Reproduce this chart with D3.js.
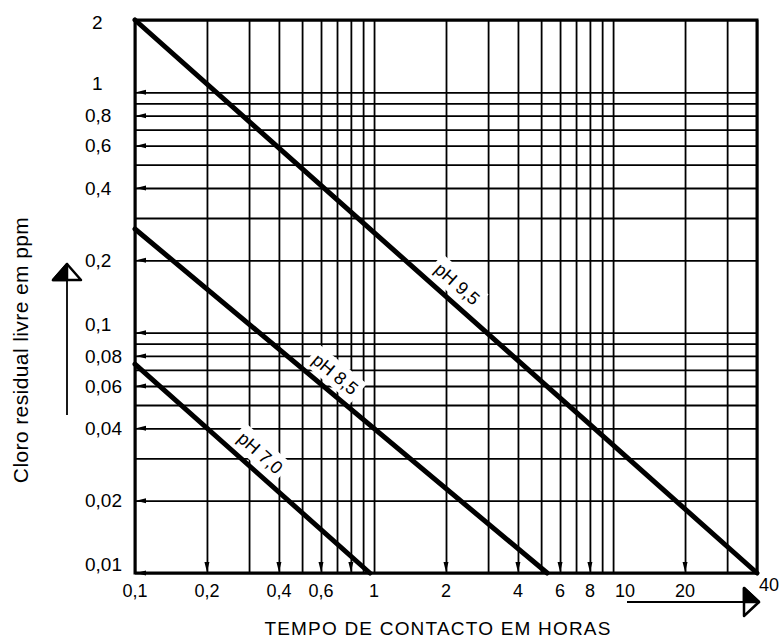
<!DOCTYPE html>
<html>
<head>
<meta charset="utf-8">
<script src="https://cdn.jsdelivr.net/npm/d3@7"></script>
<style>
  body { margin: 0; background: #fff; }
  text { font-family: "Liberation Sans", Arial, sans-serif; fill: #000; }
</style>
</head>
<body>
<svg id="chart" width="779" height="641"></svg>
<script>
// cloro residual livre (ppm) x tempo de contacto (horas), escala log-log
const xLabelValues = [0.1, 0.2, 0.4, 0.6, 1, 2, 4, 6, 8, 10, 20, 40];
const yLabelValues = [2, 1, 0.8, 0.6, 0.4, 0.2, 0.1, 0.08, 0.06, 0.04, 0.02, 0.01];
const xMarkedTicks = [0.2, 0.4, 0.6, 0.8, 2, 4, 6, 8, 20];
const yMarkedTicks = [1, 0.8, 0.6, 0.4, 0.2, 0.1, 0.08, 0.06, 0.04, 0.02, 0.01];

const series = ["pH 9,5", "pH 8,5", "pH 7,0"];
const tempoStart = [0.1, 0.1, 0.1];
const tempoEnd = [40, 5.3, 0.96];
const cloroStart = [2, 0.27, 0.074];
const cloroEnd = [0.01, 0.01, 0.01];
const labelTempo = [2, 0.62, 0.3];

const fmt = v => String(v).replace(".", ",");

const svg = d3.select("#chart");
const plotL = 135, plotR = 757, plotT = 20, plotB = 573;

const x = d3
  .scaleLog()
  .domain([d3.min(tempoStart), d3.max(tempoEnd)])
  .range([plotL, plotR]);
const y = d3
  .scaleLog()
  .domain([d3.min(cloroEnd), d3.max(cloroStart)])
  .range([plotB, plotT]);

/* grid */
const gx = svg
  .append("g")
  .attr("transform", `translate(0,${plotB})`)
  .call(d3.axisBottom(x).tickSize(-(plotB - plotT)).tickFormat(""));
const gy = svg
  .append("g")
  .attr("transform", `translate(${plotL},0)`)
  .call(d3.axisLeft(y).tickSize(-(plotR - plotL)).tickFormat(""));
[gx, gy].forEach(g => {
  g.select(".domain").remove();
  g.selectAll("line").attr("stroke", "#000").attr("stroke-width", 1.8);
});

// little arrow marks on labelled grid lines
svg
  .append("g")
  .selectAll("path")
  .data(yMarkedTicks)
  .join("path")
  .attr("d", d => `M${plotL + 1},${y(d)} L${plotL + 11},${y(d) - 2.5} L${plotL + 11},${y(d) + 2.5}Z`)
  .attr("fill", "#000");
svg
  .append("g")
  .selectAll("path")
  .data(xMarkedTicks)
  .join("path")
  .attr("d", d => `M${x(d)},${plotB - 1} L${x(d) - 2.5},${plotB - 11} L${x(d) + 2.5},${plotB - 11}Z`)
  .attr("fill", "#000");

/* curves and labels */
const lines = series.map((name, i) => {
  const slope = Math.log(cloroEnd[i] / cloroStart[i]) / Math.log(tempoEnd[i] / tempoStart[i]);
  const cloroAt = t => cloroStart[i] * Math.pow(t / tempoStart[i], slope);
  return {
    name,
    p0: [x(tempoStart[i]), y(cloroStart[i])],
    p1: [x(tempoEnd[i]), y(cloroEnd[i])],
    lab: [x(labelTempo[i]), y(cloroAt(labelTempo[i]))]
  };
});

const labG = svg
  .append("g")
  .selectAll("g")
  .data(lines)
  .join("g")
  .attr("transform", d => {
    const ang = (Math.atan2(d.p1[1] - d.p0[1], d.p1[0] - d.p0[0]) * 180) / Math.PI;
    return `translate(${d.lab[0]},${d.lab[1]}) rotate(${ang})`;
  });
labG
  .append("rect")
  .attr("fill", "#fff");
labG
  .append("text")
  .attr("y", -17)
  .attr("dy", "0.35em")
  .attr("text-anchor", "middle")
  .style("font-size", "18px")
  .text(d => d.name);
labG.each(function() {
  const b = d3.select(this).select("text").node().getBBox();
  d3.select(this)
    .select("rect")
    .attr("x", b.x - 4)
    .attr("y", b.y - 3)
    .attr("width", b.width + 8)
    .attr("height", b.height + 5);
});

svg
  .append("g")
  .selectAll("line")
  .data(lines)
  .join("line")
  .attr("x1", d => d.p0[0])
  .attr("y1", d => d.p0[1])
  .attr("x2", d => d.p1[0])
  .attr("y2", d => d.p1[1])
  .attr("stroke", "#000")
  .attr("stroke-width", 5)
  .attr("stroke-linecap", "round");

// frame
svg
  .append("rect")
  .attr("x", plotL)
  .attr("y", plotT)
  .attr("width", plotR - plotL)
  .attr("height", plotB - plotT)
  .attr("fill", "none")
  .attr("stroke", "#000")
  .attr("stroke-width", 3);

/* tick labels */
svg
  .append("g")
  .selectAll("text")
  .data(yLabelValues)
  .join("text")
  .attr("x", d => (d >= 1 ? 92 : 85))
  .attr("y", d => {
    if (d === 1 || d === 0.1 || d === 0.01) return y(d) - 2;
    if (d === 2) return y(d) + 2;
    return y(d);
  })
  .attr("dy", d => (d === 1 || d === 0.1 || d === 0.01 ? "0" : "0.35em"))
  .style("font-size", "19px")
  .text(fmt);

svg
  .append("g")
  .selectAll("text")
  .data(xLabelValues)
  .join("text")
  .attr("x", d => x(d) + (d >= 10 && d !== 20 ? 12 : 0))
  .attr("y", d => (d === 40 ? 591 : 597))
  .attr("text-anchor", "middle")
  .style("font-size", "18px")
  .text(fmt);

/* axis titles and arrows */
svg
  .append("text")
  .attr("transform", "translate(28,350) rotate(-90)")
  .attr("text-anchor", "middle")
  .style("font-size", "21px")
  .style("letter-spacing", "0.4px")
  .text("Cloro residual livre em ppm");

svg
  .append("text")
  .attr("x", 438)
  .attr("y", 635)
  .attr("text-anchor", "middle")
  .style("font-size", "19px")
  .style("letter-spacing", "1.2px")
  .text("TEMPO DE CONTACTO EM HORAS");

// y arrow
svg.append("line")
  .attr("x1", 67).attr("y1", 415).attr("x2", 67).attr("y2", 279)
  .attr("stroke", "#000").attr("stroke-width", 1.8);
svg.append("path")
  .attr("d", "M67,264 L53,280 L81,280Z")
  .attr("fill", "#fff").attr("stroke", "#000").attr("stroke-width", 2.5)
  .attr("stroke-linejoin", "round");
svg.append("path")
  .attr("d", "M67,264 L53,280 L67,280Z")
  .attr("fill", "#000").attr("stroke", "#000").attr("stroke-width", 2.5)
  .attr("stroke-linejoin", "round");

// x arrow
svg.append("line")
  .attr("x1", 627).attr("y1", 602).attr("x2", 745).attr("y2", 602)
  .attr("stroke", "#000").attr("stroke-width", 1.8);
svg.append("path")
  .attr("d", "M759,602 L744,588 L744,616Z")
  .attr("fill", "#fff").attr("stroke", "#000").attr("stroke-width", 2.5)
  .attr("stroke-linejoin", "round");
svg.append("path")
  .attr("d", "M759,602 L744,588 L744,602Z")
  .attr("fill", "#000").attr("stroke", "#000").attr("stroke-width", 2.5)
  .attr("stroke-linejoin", "round");
</script>
</body>
</html>
